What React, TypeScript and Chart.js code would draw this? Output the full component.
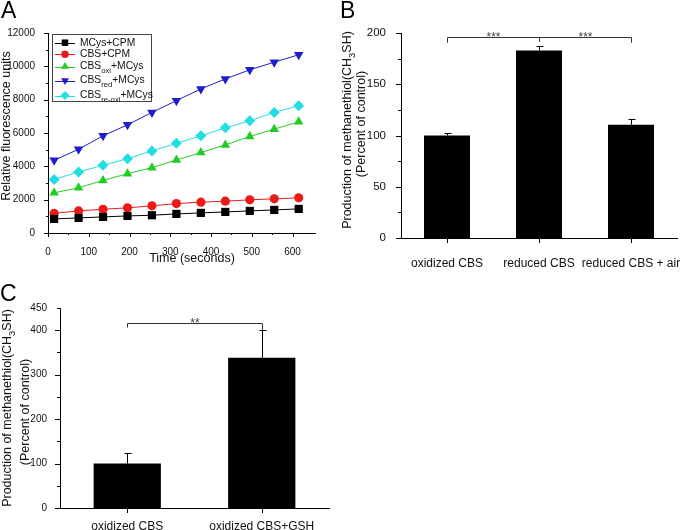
import React, { useEffect, useRef } from 'react';
import { Chart, registerables } from 'chart.js';

Chart.register(...registerables);

const FONT = "'Liberation Sans', Arial, Helvetica, sans-serif";

// ---------------- Panel A data ----------------
const timeSeconds = [15, 75, 135, 195, 255, 315, 375, 435, 495, 555, 615];
const mcysCpm = [845, 905, 965, 1025, 1065, 1145, 1205, 1265, 1325, 1385, 1445];
const cbsCpm = [1185, 1325, 1425, 1510, 1630, 1765, 1850, 1910, 1990, 2050, 2110];
const cbsOxiMcys = [2410, 2715, 3155, 3560, 3920, 4380, 4825, 5285, 5790, 6230, 6675];
const cbsRedMcys = [4360, 5025, 5830, 6490, 7235, 7940, 8645, 9245, 9790, 10250, 10695];
const cbsReOxiMcys = [3215, 3660, 4060, 4460, 4925, 5385, 5830, 6310, 6735, 7235, 7640];
const xTicksA = [0, 100, 200, 300, 400, 500, 600];
const seriesLabelsA = ['MCys+CPM', 'CBS+CPM', 'CBSoxi+MCys', 'CBSred+MCys', 'CBSre-oxi+MCys'];
const legendTextA = [
  [{ t: 'MCys+CPM' }],
  [{ t: 'CBS+CPM' }],
  [{ t: 'CBS' }, { t: 'oxi', sub: true }, { t: '+MCys' }],
  [{ t: 'CBS' }, { t: 'red', sub: true }, { t: '+MCys' }],
  [{ t: 'CBS' }, { t: 're-oxi', sub: true }, { t: '+MCys' }],
];
const xTitleA = 'Time (seconds)';
const yTitleA = 'Relative fluorescence units';

// ---------------- Panel B data ----------------
const categoriesB = ['oxidized CBS', 'reduced CBS', 'reduced CBS + air'];
const valuesB = [100, 183, 110.5];
const errorsB = [2, 4.5, 6];
const bracketLevelB = 196;
const bracketEndsB = [190.5, 191.5, 190.5];
const starsB = ['***', '***'];

// ---------------- Panel C data ----------------
const categoriesC = ['oxidized CBS', 'oxidized CBS+GSH'];
const valuesC = [100, 338];
const errorsC = [23, 62];
const bracketLevelC = 417;
const bracketEndsC = [406, 400];
const starsC = ['**'];

const yTitleLine1 = [{ t: 'Production of methanethiol(CH' }, { t: '3', sub: true }, { t: 'SH)' }];
const yTitleLine2 = [{ t: '(Percent of control)' }];

type Part = { t: string; sub?: boolean };

function drawRich(
  ctx: CanvasRenderingContext2D,
  parts: Part[],
  x: number,
  y: number,
  size: number,
  opts: { rotate?: boolean; align?: 'left' | 'center'; color?: string } = {}
) {
  ctx.save();
  ctx.translate(x, y);
  if (opts.rotate) ctx.rotate(-Math.PI / 2);
  ctx.fillStyle = opts.color || '#000';
  ctx.textBaseline = 'middle';
  ctx.textAlign = 'left';
  const subSize = size * 0.75;
  const widths = parts.map((p) => {
    ctx.font = `${p.sub ? subSize : size}px ${FONT}`;
    return ctx.measureText(p.t).width;
  });
  const total = widths.reduce((a, b) => a + b, 0);
  let cx = opts.align === 'left' ? 0 : -total / 2;
  parts.forEach((p, i) => {
    ctx.font = `${p.sub ? subSize : size}px ${FONT}`;
    ctx.fillText(p.t, cx, p.sub ? size * 0.38 : 0);
    cx += widths[i];
  });
  ctx.restore();
}

// ---------------- plugins ----------------
const tickMarks = {
  id: 'tickMarks',
  afterDraw(chart: any, _a: any, opts: any) {
    const { ctx, chartArea } = chart;
    ctx.save();
    ctx.strokeStyle = '#000';
    ctx.lineWidth = 1;
    ctx.beginPath();
    for (const s of opts.axes || []) {
      const scale = chart.scales[s.id];
      const marks: [number, number][] = [];
      if (s.category) {
        scale.ticks.forEach((_: any, i: number) => marks.push([scale.getPixelForValue(i), s.majorLen]));
      } else {
        const top = s.limit !== undefined ? s.limit : scale.max;
        for (let v = scale.min; v <= top + 1e-6; v += s.minorStep) {
          const r = v / s.majorStep;
          const isMajor = Math.abs(r - Math.round(r)) < 1e-6;
          marks.push([scale.getPixelForValue(v), isMajor ? s.majorLen : s.minorLen]);
        }
      }
      for (const [p, len] of marks) {
        if (s.id === 'y') {
          const y = Math.round(p) + 0.5;
          ctx.moveTo(chartArea.left - len, y);
          ctx.lineTo(chartArea.left, y);
        } else {
          const x = Math.round(p) + 0.5;
          ctx.moveTo(x, chartArea.bottom);
          ctx.lineTo(x, chartArea.bottom + len);
        }
      }
    }
    ctx.stroke();
    ctx.restore();
  },
};

const titles = {
  id: 'titles',
  afterDraw(chart: any, _a: any, opts: any) {
    for (const it of opts.items || []) {
      drawRich(chart.ctx, it.parts, it.x, it.y, it.size, { rotate: it.rotate, align: 'center', color: '#111' });
    }
  },
};

const errorBars = {
  id: 'errorBars',
  afterDatasetsDraw(chart: any, _a: any, opts: any) {
    const { ctx } = chart;
    const meta = chart.getDatasetMeta(0);
    const ys = chart.scales.y;
    const vals = chart.data.datasets[0].data;
    ctx.save();
    ctx.strokeStyle = '#000';
    ctx.lineWidth = 1;
    ctx.beginPath();
    meta.data.forEach((bar: any, i: number) => {
      const x = Math.round(bar.x) + 0.5;
      const top = Math.round(ys.getPixelForValue(vals[i] + opts.errors[i])) + 0.5;
      ctx.moveTo(x, bar.y);
      ctx.lineTo(x, top);
      ctx.moveTo(x - opts.cap, top);
      ctx.lineTo(x + opts.cap + 1, top);
    });
    ctx.stroke();
    ctx.restore();
  },
};

const brackets = {
  id: 'brackets',
  afterDatasetsDraw(chart: any, _a: any, opts: any) {
    const { ctx } = chart;
    const xs = chart.scales.x;
    const ys = chart.scales.y;
    const lineY = Math.round(ys.getPixelForValue(opts.level)) + 0.5;
    const px = opts.ends.map((_: number, i: number) => Math.round(xs.getPixelForValue(i)) + 0.5);
    ctx.save();
    ctx.strokeStyle = '#333';
    ctx.lineWidth = 1;
    ctx.beginPath();
    ctx.moveTo(px[0], lineY);
    ctx.lineTo(px[px.length - 1], lineY);
    opts.ends.forEach((to: number, i: number) => {
      ctx.moveTo(px[i], lineY);
      ctx.lineTo(px[i], ys.getPixelForValue(to));
    });
    ctx.stroke();
    ctx.fillStyle = '#444';
    ctx.font = `${opts.starSize}px ${FONT}`;
    ctx.textAlign = 'center';
    ctx.textBaseline = 'alphabetic';
    opts.stars.forEach((s: string, i: number) => {
      const cx = (px[i] + px[i + 1]) / 2;
      ctx.fillText(s, cx, lineY - 3 + 0.58 * opts.starSize);
    });
    ctx.restore();
  },
};

function drawMarker(ctx: CanvasRenderingContext2D, style: string, x: number, y: number, r: number, color: string) {
  ctx.fillStyle = color;
  ctx.beginPath();
  if (style === 'rect') {
    const s = r * Math.SQRT1_2;
    ctx.rect(x - s, y - s, 2 * s, 2 * s);
  } else if (style === 'circle') {
    ctx.arc(x, y, r, 0, Math.PI * 2);
  } else if (style === 'triangle') {
    ctx.moveTo(x, y - r);
    ctx.lineTo(x + r * 0.866, y + r * 0.5);
    ctx.lineTo(x - r * 0.866, y + r * 0.5);
    ctx.closePath();
  } else if (style === 'triangleDown') {
    ctx.moveTo(x, y + r);
    ctx.lineTo(x + r * 0.866, y - r * 0.5);
    ctx.lineTo(x - r * 0.866, y - r * 0.5);
    ctx.closePath();
  } else {
    ctx.moveTo(x, y - r);
    ctx.lineTo(x + r, y);
    ctx.lineTo(x, y + r);
    ctx.lineTo(x - r, y);
    ctx.closePath();
  }
  ctx.fill();
}

const legendA = {
  id: 'legendA',
  afterDraw(chart: any, _a: any, opts: any) {
    const { ctx } = chart;
    ctx.save();
    ctx.strokeStyle = '#444';
    ctx.lineWidth = 1;
    ctx.strokeRect(opts.box[0] + 0.5, opts.box[1] + 0.5, opts.box[2], opts.box[3]);
    chart.data.datasets.forEach((ds: any, i: number) => {
      const y = opts.rows[i];
      ctx.strokeStyle = ds.borderColor;
      ctx.beginPath();
      ctx.moveTo(opts.lineX[0], Math.round(y) + 0.5);
      ctx.lineTo(opts.lineX[1], Math.round(y) + 0.5);
      ctx.stroke();
      drawMarker(ctx, opts.markers[i], (opts.lineX[0] + opts.lineX[1]) / 2, y, opts.markerR[i], ds.backgroundColor);
      drawRich(ctx, legendTextA[i], opts.textX, y, opts.size, { align: 'left', color: '#111' });
    });
    ctx.restore();
  },
};

const fixY = (w: number) => (s: any) => {
  s.width = w;
  s.paddingTop = 0;
  s.paddingBottom = 0;
};
const fixX = (h: number) => (s: any) => {
  s.height = h;
  s.paddingLeft = 0;
  s.paddingRight = 0;
};
const plainNum = (v: number | string) => String(v);

// ---------------- configs ----------------
function makeA(): any {
  const seriesValues = [mcysCpm, cbsCpm, cbsOxiMcys, cbsRedMcys, cbsReOxiMcys];
  const colors = ['#000000', '#ee1a1a', '#22cc22', '#1e1ec8', '#22dde2'];
  const styles = ['rect', 'circle', 'triangle', 'triangle', 'rectRot'];
  const rot = [0, 0, 0, 180, 0];
  const radii = [5.8, 4.6, 5.5, 5.5, 5.5];
  return {
    type: 'line',
    data: {
      datasets: seriesValues.map((vals, i) => ({
        label: seriesLabelsA[i],
        data: timeSeconds.map((t, j) => ({ x: t, y: vals[j] })),
        borderColor: colors[i],
        backgroundColor: colors[i],
        borderWidth: 1,
        pointStyle: styles[i],
        rotation: rot[i],
        pointRadius: radii[i],
        pointBorderWidth: 0,
        tension: 0,
      })),
    },
    options: {
      responsive: false,
      animation: false,
      devicePixelRatio: 1,
      layout: { padding: { top: 33, right: 25, bottom: 0, left: 0 } },
      plugins: {
        legend: { display: false },
        tooltip: { enabled: false },
        tickMarks: {
          axes: [
            { id: 'x', majorStep: 100, minorStep: 50, majorLen: 4, minorLen: 2, limit: 600 },
            { id: 'y', majorStep: 2000, minorStep: 1000, majorLen: 4, minorLen: 2 },
          ],
        },
        titles: {
          items: [
            { parts: [{ t: xTitleA }], x: 192, y: 259, size: 12.5 },
            { parts: [{ t: yTitleA }], x: 6.5, y: 126, size: 12.5, rotate: true },
          ],
        },
        legendA: {
          box: [52, 34, 99, 67],
          rows: [42.7, 54.3, 66.5, 80.5, 95.5],
          lineX: [55, 75],
          textX: 80,
          size: 10.3,
          markers: ['rect', 'circle', 'triangle', 'triangleDown', 'diamond'],
          markerR: [4.6, 3.8, 4.6, 4.6, 4.6],
        },
      },
      scales: {
        x: {
          type: 'linear',
          min: 0,
          max: 655,
          afterFit: fixX(37),
          afterBuildTicks: (s: any) => {
            s.ticks = xTicksA.map((v) => ({ value: v }));
          },
          grid: { display: false },
          border: { display: true, color: '#000', width: 1 },
          ticks: {
            autoSkip: false,
            maxRotation: 0,
            padding: 5,
            color: '#111',
            font: { size: 10, family: FONT },
            callback: plainNum,
          },
        },
        y: {
          type: 'linear',
          min: 0,
          max: 12000,
          afterFit: fixY(48),
          grid: { display: false },
          border: { display: true, color: '#000', width: 1 },
          ticks: { stepSize: 2000, padding: 5, color: '#111', font: { size: 10, family: FONT }, callback: plainNum },
        },
      },
    },
    plugins: [tickMarks, titles, legendA],
  };
}

function makeBar(
  cats: string[],
  vals: number[],
  errs: number[],
  o: {
    yMax: number;
    yStep: number;
    yMinor: number;
    yWidth: number;
    xHeight: number;
    padTop: number;
    padRight: number;
    tickSize: number;
    xPad: number;
    yPad: number;
    bracket: any;
    titleItems: any[];
  }
): any {
  return {
    type: 'bar',
    data: {
      labels: cats,
      datasets: [
        {
          data: vals,
          backgroundColor: '#000',
          borderWidth: 0,
          barPercentage: 0.5,
          categoryPercentage: 1,
        },
      ],
    },
    options: {
      responsive: false,
      animation: false,
      devicePixelRatio: 1,
      layout: { padding: { top: o.padTop, right: o.padRight, bottom: 0, left: 0 } },
      plugins: {
        legend: { display: false },
        tooltip: { enabled: false },
        tickMarks: {
          axes: [
            { id: 'x', category: true, majorLen: 5 },
            { id: 'y', majorStep: o.yStep, minorStep: o.yMinor, majorLen: 5, minorLen: 3 },
          ],
        },
        errorBars: { errors: errs, cap: 3 },
        brackets: o.bracket,
        titles: { items: o.titleItems },
      },
      scales: {
        x: {
          type: 'category',
          offset: true,
          afterFit: fixX(o.xHeight),
          grid: { display: false },
          border: { display: true, color: '#000', width: 1 },
          ticks: {
            autoSkip: false,
            maxRotation: 0,
            minRotation: 0,
            padding: o.xPad,
            color: '#111',
            font: { size: 12, family: FONT },
          },
        },
        y: {
          type: 'linear',
          min: 0,
          max: o.yMax,
          afterFit: fixY(o.yWidth),
          grid: { display: false },
          border: { display: true, color: '#000', width: 1 },
          ticks: {
            stepSize: o.yStep,
            padding: o.yPad,
            color: '#111',
            font: { size: o.tickSize, family: FONT },
            callback: plainNum,
          },
        },
      },
    },
    plugins: [tickMarks, errorBars, brackets, titles],
  };
}

function makeB(): any {
  return makeBar(categoriesB, valuesB, errorsB, {
    yMax: 200,
    yStep: 50,
    yMinor: 25,
    yWidth: 61,
    xHeight: 32,
    padTop: 33,
    padRight: 6,
    tickSize: 11.5,
    xPad: 10,
    yPad: 7,
    bracket: { level: bracketLevelB, ends: bracketEndsB, stars: starsB, starSize: 12 },
    titleItems: [
      { parts: yTitleLine1, x: 8, y: 130, size: 12.5, rotate: true },
      { parts: yTitleLine2, x: 22, y: 124, size: 12.5, rotate: true },
    ],
  });
}

function makeC(): any {
  return makeBar(categoriesC, valuesC, errorsC, {
    yMax: 450,
    yStep: 100,
    yMinor: 50,
    yWidth: 60,
    xHeight: 22,
    padTop: 38,
    padRight: 11,
    tickSize: 10,
    xPad: 3,
    yPad: 5,
    bracket: { level: bracketLevelC, ends: bracketEndsC, stars: starsC, starSize: 12 },
    titleItems: [
      { parts: yTitleLine1, x: 8, y: 138, size: 12.5, rotate: true },
      { parts: yTitleLine2, x: 25.5, y: 142, size: 12.5, rotate: true },
    ],
  });
}

function ChartCanvas(props: { make: () => any; width: number; height: number; left: number; top: number }) {
  const ref = useRef<HTMLCanvasElement>(null);
  useEffect(() => {
    const chart = new Chart(ref.current as HTMLCanvasElement, props.make());
    return () => chart.destroy();
  }, []);
  return (
    <canvas
      ref={ref}
      width={props.width}
      height={props.height}
      style={{ position: 'absolute', left: props.left, top: props.top, width: props.width, height: props.height, display: 'block' }}
    />
  );
}

const panelLabel = (text: string, left: number, top: number) => (
  <div
    style={{
      position: 'absolute',
      left,
      top,
      fontFamily: FONT,
      fontSize: 23,
      lineHeight: '23px',
      color: '#000',
    }}
  >
    {text}
  </div>
);

export default function App() {
  return (
    <div style={{ position: 'absolute', left: 0, top: 0, width: 683, height: 530, background: '#fff', overflow: 'hidden' }}>
      <ChartCanvas make={makeA} width={340} height={270} left={0} top={0} />
      <ChartCanvas make={makeB} width={343} height={270} left={340} top={0} />
      <ChartCanvas make={makeC} width={340} height={260} left={0} top={270} />
      {panelLabel('A', 1, -1)}
      {panelLabel('B', 340, -1)}
      {panelLabel('C', 0, 282)}
    </div>
  );
}
